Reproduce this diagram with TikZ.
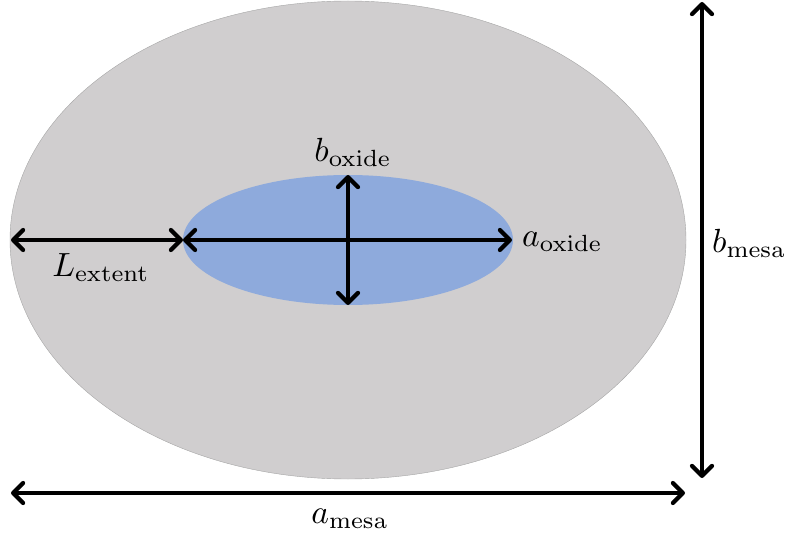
\documentclass[tikz,border=0pt]{standalone}
\usepackage{graphicx}
\usetikzlibrary{arrows.meta}
\definecolor{mesagray}{RGB}{208,206,207}
\definecolor{oxideblue}{RGB}{142,170,220}
\newcommand{\biglbl}[1]{\scalebox{3.35}{$#1$}}
\tikzset{
  barbtip/.tip={Straight Barb[length=10pt,width=20pt,line width=4.2pt,round]},
  dim/.style={line width=4.2pt,line cap=round,barbtip-barbtip},
  lbl/.style={inner sep=0pt}
}
\begin{document}
\begin{tikzpicture}[x=1pt,y=-1pt]
\useasboundingbox (0,0) rectangle (790,540);
\fill[mesagray] (348,240) ellipse [x radius=338,y radius=239];
\draw[black!35,line width=0.4pt] (348,240) ellipse [x radius=338,y radius=239];
\fill[oxideblue] (348,240) ellipse [x radius=165,y radius=65];
\coordinate (le) at (11,240);
\coordinate (ol) at (183,240);
\coordinate (or) at (512,240);
\coordinate (ot) at (348,175);
\coordinate (ob) at (348,305);
\coordinate (mt) at (702,2);
\coordinate (mb) at (702,478);
\coordinate (ml) at (11,493);
\coordinate (mr) at (685,493);
\draw[dim] (le) -- (ol);
\draw[dim] (ol) -- (or);
\draw[dim] (ot) -- (ob);
\draw[dim] (mt) -- (mb);
\draw[dim] (ml) -- (mr);
\node[lbl] (Lext) at (101,268) {\biglbl{L_{\mathrm{extent}}}};
\node[lbl,anchor=west] (aox) at (522,242) {\biglbl{a_{\mathrm{oxide}}}};
\node[lbl] (box) at (353,152) {\biglbl{b_{\mathrm{oxide}}}};
\node[lbl,anchor=west] (bme) at (712,243) {\biglbl{b_{\mathrm{mesa}}}};
\node[lbl] (ame) at (350,519) {\biglbl{a_{\mathrm{mesa}}}};
\end{tikzpicture}
\end{document}
